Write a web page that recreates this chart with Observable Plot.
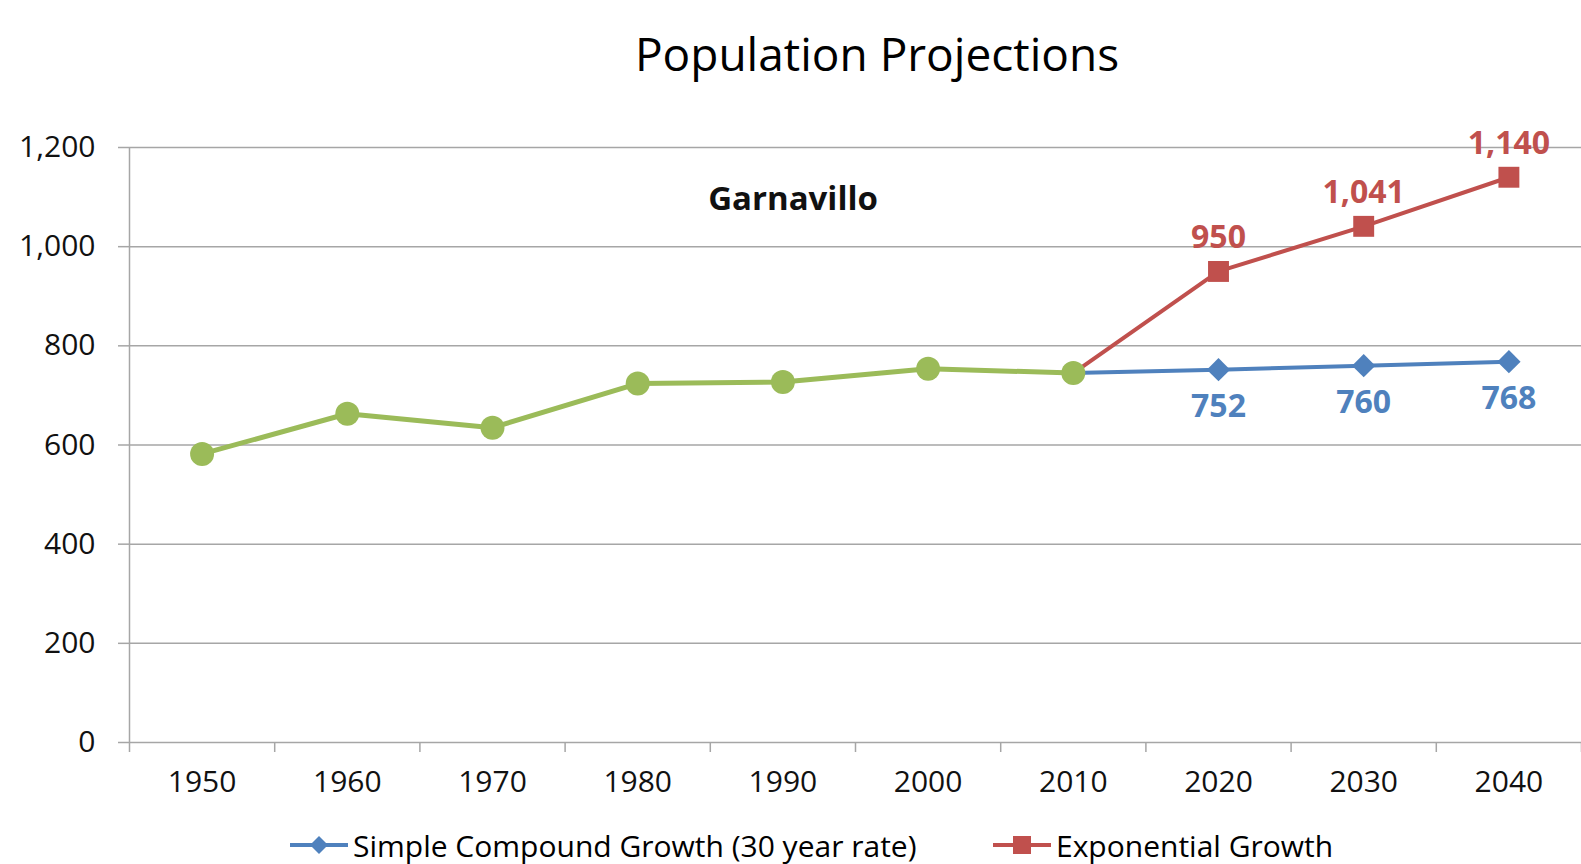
<!DOCTYPE html>
<html>
<head>
<meta charset="utf-8">
<script src="https://cdn.jsdelivr.net/npm/d3@7"></script>
<script src="https://cdn.jsdelivr.net/npm/@observablehq/plot@0.6"></script>
<style>
  html, body { margin: 0; padding: 0; background: #fff; }
  #wrap { position: relative; width: 1581px; height: 864px; overflow: hidden; font-family: "Open Sans", sans-serif; }
  #title { position: absolute; left: 0; width: 1754px; top: 21px; text-align: center; font-size: 46px; line-height: 64px; color: #000; }
  #chart { position: absolute; left: 0; top: 0; }
  #legend { position: absolute; left: 0; top: 826px; width: 1581px; height: 38px; }
  .item { position: absolute; top: 0; height: 38px; display: flex; align-items: center; font-size: 30px; color: #000; }
  .item svg { display: block; margin-right: 4px; }
</style>
</head>
<body>
<div id="wrap">
  <div id="chart"></div>
  <div id="title">Population Projections</div>
  <div id="legend"></div>
</div>
<script>
// ---- data ----
const years = [1950, 1960, 1970, 1980, 1990, 2000, 2010, 2020, 2030, 2040];
const histYears = [1950, 1960, 1970, 1980, 1990, 2000, 2010];
const histPop = [582, 663, 635, 724, 727, 754, 745];
const projYears = [2010, 2020, 2030, 2040];
const simpleGrowth = [745, 752, 760, 768];
const expGrowth = [745, 950, 1041, 1140];
const yTicks = [0, 200, 400, 600, 800, 1000, 1200];
const seriesNames = ["Simple Compound Growth (30 year rate)", "Exponential Growth"];
const placeName = "Garnavillo";

const GREEN = "#9BBB59", BLUE = "#4F81BD", RED = "#C0504D", GRID = "#a6a6a6";

const hist = histYears.map((y, i) => ({year: y, pop: histPop[i]}));
const simple = projYears.map((y, i) => ({year: y, pop: simpleGrowth[i]}));
const expo = projYears.map((y, i) => ({year: y, pop: expGrowth[i]}));
const step = years[1] - years[0];
const bounds = [years[0] - step / 2, ...years.map(y => y + step / 2)];

const fmt = d3.format(",");
const H = 864, MT = 147, MB = 122;
const plotH = H - MT - MB;

const chart = Plot.plot({
  width: 1581,
  height: H,
  marginTop: MT,
  marginBottom: MB,
  marginLeft: 129,
  marginRight: 0,
  style: {fontFamily: "Open Sans, sans-serif", background: "transparent", overflow: "visible"},
  x: {domain: [bounds[0], bounds[bounds.length - 1]], axis: null},
  y: {domain: [0, 1200], axis: null},
  marks: [
    // grid lines
    Plot.ruleY(yTicks, {stroke: GRID, strokeWidth: 1.5}),
    // y axis line
    Plot.ruleX([bounds[0]], {stroke: GRID, strokeWidth: 1.5}),
    // y ticks + labels
    Plot.axisY({ticks: yTicks, tickSize: 11, tickPadding: 23, tickFormat: fmt, stroke: GRID, strokeWidth: 1.5,
                fontSize: 30, fill: "#111", label: null}),
    // x tick marks hanging below the axis at category boundaries
    Plot.ruleX(bounds, {stroke: GRID, strokeWidth: 1.5, insetTop: plotH, insetBottom: -10}),
    // x labels
    Plot.axisX({ticks: years, tickSize: 0, tickPadding: 28, tickFormat: d => String(d), fontSize: 30, fill: "#111", label: null}),
    // projections
    Plot.line(expo, {x: "year", y: "pop", stroke: RED, strokeWidth: 4}),
    Plot.line(simple, {x: "year", y: "pop", stroke: BLUE, strokeWidth: 4}),
    Plot.dot(expo.slice(1), {x: "year", y: "pop", symbol: "square", fill: RED, r: 11.8}),
    Plot.dot(simple.slice(1), {x: "year", y: "pop", symbol: "diamond2", fill: BLUE, r: 10.5}),
    // history
    Plot.line(hist, {x: "year", y: "pop", stroke: GREEN, strokeWidth: 5}),
    Plot.dot(hist, {x: "year", y: "pop", fill: GREEN, r: 12}),
    // value labels
    Plot.text(expo.slice(1), {x: "year", y: "pop", text: d => fmt(d.pop), dy: -34, fill: RED, fontSize: 32, fontWeight: "bold"}),
    Plot.text(simple.slice(1), {x: "year", y: "pop", text: d => fmt(d.pop), dy: 37, fill: BLUE, fontSize: 32, fontWeight: "bold"}),
    // place label
    Plot.text([placeName], {x: 1990.7, y: 1096, text: d => d, fontSize: 33, fontWeight: "bold", fill: "#111"})
  ]
});
document.getElementById("chart").appendChild(chart);

// legend
const legend = document.getElementById("legend");
const items = [
  {name: seriesNames[0], color: BLUE, sym: "diamond", left: 290},
  {name: seriesNames[1], color: RED, sym: "square", left: 993}
];
for (const it of items) {
  const div = document.createElement("div");
  div.className = "item";
  div.style.left = it.left + "px";
  const marker = it.sym === "diamond"
    ? `<path d="M29,10 L38,19 L29,28 L20,19 Z" fill="${it.color}"/>`
    : `<rect x="20" y="10" width="18" height="18" fill="${it.color}"/>`;
  div.innerHTML = `<svg width="59" height="38"><line x1="0" x2="58" y1="19" y2="19" stroke="${it.color}" stroke-width="4"/>${marker}</svg><span>${it.name}</span>`;
  legend.appendChild(div);
}
</script>
</body>
</html>
